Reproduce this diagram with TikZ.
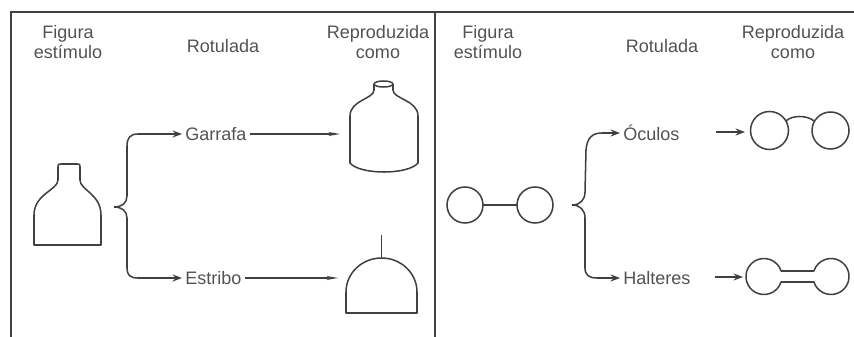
\documentclass[tikz,border=0pt]{standalone}
\usepackage{fontspec}
\setmainfont{Liberation Sans}
\usetikzlibrary{arrows.meta}

\definecolor{tinta}{gray}{0.32}
\definecolor{traco}{gray}{0.25}

\tikzset{
  titulo/.style={align=center, font=\fontsize{15.4}{17}\selectfont, text=tinta},
  rotulo/.style={anchor=west, inner xsep=2.6pt, inner ysep=0pt, font=\fontsize{15.4}{17}\selectfont, text=tinta},
  seta/.style={draw=traco, line width=1.3pt, -{Stealth[length=8pt,width=6pt]}},
  linha/.style={draw=traco, line width=1.1pt, -{Stealth[length=10pt,width=3.5pt]}},
  figura/.style={draw=traco, line width=1.3pt, line join=round},
}

\begin{document}
\begin{tikzpicture}[x=0.3mm, y=-0.3mm]
    \useasboundingbox (0,0) rectangle (854,337);

    % Moldura
    \draw[traco, line width=1.2pt] (11,337) -- (11,12) -- (854,12);
    \draw[traco, line width=1.2pt] (435,12) -- (435,337);

    % Cabeçalhos
    \node[titulo] (fig1) at (68,42) {Figura\\estímulo};
    \node[titulo] (rot1) at (223,46) {Rotulada};
    \node[titulo] (rep1) at (378,42) {Reproduzida\\como};
    \node[titulo] (fig2) at (488,42) {Figura\\estímulo};
    \node[titulo] (rot2) at (662,46) {Rotulada};
    \node[titulo] (rep2) at (793,42) {Reproduzida\\como};

    % Rótulos
    \node[rotulo] (garrafa) at (182,134) {Garrafa};
    \node[rotulo] (estribo) at (182,278) {Estribo};
    \node[rotulo] (oculos) at (620,133) {Óculos};
    \node[rotulo] (halteres) at (620,278) {Halteres};

    % Chaves
    \coordinate (chave1) at (114,207);
    \coordinate (chave2) at (572,205);
    \draw[seta] (chave1) .. controls (122,207) and (127,203) .. (127,196) -- (127,146)
        .. controls (127,138) and (130,134) .. (138,134) -- (garrafa.west);
    \draw[seta] (chave1) .. controls (122,207) and (127,211) .. (127,218) -- (127,268)
        .. controls (127,275) and (130,278) .. (138,278) -- (estribo.west);
    \draw[seta] (chave2) .. controls (580,205) and (585,200) .. (585,192) -- (586,150)
        .. controls (587,138) and (592,133) .. (602,133) -- (oculos.west);
    \draw[seta] (chave2) .. controls (580,205) and (585,210) .. (585,218) -- (585,268)
        .. controls (585,275) and (589,278) .. (597,278) -- (halteres.west);

    % Setas para as reproduções
    \coordinate (g1) at (340,134);
    \coordinate (e1) at (338,278);
    \draw[linha] (garrafa.east) -- (g1);
    \draw[linha] (estribo.east) -- (e1);
    \coordinate (o1) at (716,132);
    \coordinate (o2) at (745,132);
    \coordinate (h1) at (715,277);
    \coordinate (h2) at (743,277);
    \draw[seta] (o1) -- (o2);
    \draw[seta] (h1) -- (h2);

    % Figura estímulo (esquerda)
    \draw[figura] (34,245) -- (34,215) .. controls (34,194) and (58,190) .. (58,180)
        -- (58,167) .. controls (58,164) .. (61,164) -- (77,164)
        .. controls (80,164) .. (80,167) -- (80,180)
        .. controls (80,190) and (101,194) .. (101,215) -- (101,245) -- cycle;

    % Garrafa
    \draw[figura] (383.5,84) ellipse (9.5 and 3);
    \draw[figura] (374,84) -- (374,90) .. controls (374,99) and (350,100) .. (350,116)
        -- (350,163) .. controls (360,175) and (408,175) .. (418,163)
        -- (418,116) .. controls (418,100) and (393,99) .. (393,90) -- (393,84);

    % Estribo
    \draw[figura] (381.5,235) -- (381.5,258);
    \draw[figura] (346,313) -- (346,292) arc (180:360:35.5 and 34) -- (417,313) -- cycle;

    % Figura estímulo (direita)
    \draw[figura] (465,205) circle (18);
    \draw[figura] (535,205) circle (18);
    \draw[figura] (483,205) -- (517,205);

    % Óculos
    \draw[figura] (769.5,130.5) circle (19);
    \draw[figura] (830.5,130.5) circle (18.5);
    \draw[figura] (786,121) .. controls (792,115) and (807,115) .. (814,121);

    % Halteres
    \draw[figura] (781.1,271) arc (-17.8:-342.2:18) -- (813.9,282)
        arc (162.2:-162.2:18) -- cycle;
\end{tikzpicture}
\end{document}
